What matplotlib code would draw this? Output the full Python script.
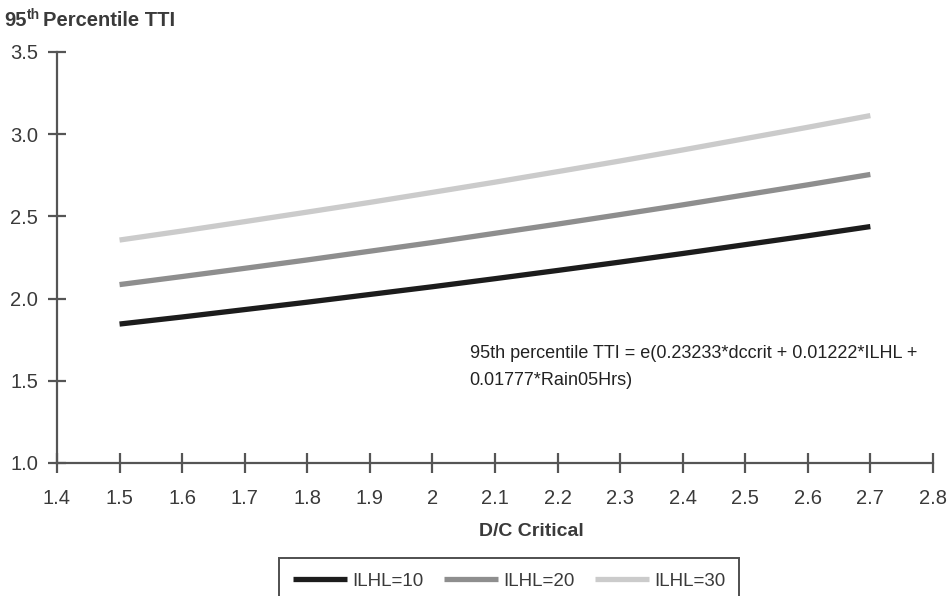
import matplotlib
matplotlib.use("Agg")
import matplotlib.pyplot as plt

# values
dc_critical = [1.5, 1.6, 1.7, 1.8, 1.9, 2.0, 2.1, 2.2, 2.3, 2.4, 2.5, 2.6, 2.7]
tti_ilhl10 = [1.845, 1.888, 1.933, 1.978, 2.025, 2.072, 2.121, 2.171, 2.222, 2.274, 2.328, 2.382, 2.438]
tti_ilhl20 = [2.085, 2.134, 2.184, 2.235, 2.288, 2.341, 2.397, 2.453, 2.511, 2.570, 2.631, 2.692, 2.755]
tti_ilhl30 = [2.356, 2.411, 2.468, 2.526, 2.585, 2.646, 2.708, 2.772, 2.837, 2.904, 2.973, 3.042, 3.113]
series_labels = ["ILHL=10", "ILHL=20", "ILHL=30"]
x_ticks = [1.4, 1.5, 1.6, 1.7, 1.8, 1.9, 2.0, 2.1, 2.2, 2.3, 2.4, 2.5, 2.6, 2.7, 2.8]
x_tick_labels = ["1.4", "1.5", "1.6", "1.7", "1.8", "1.9", "2", "2.1", "2.2", "2.3", "2.4", "2.5", "2.6", "2.7", "2.8"]
y_ticks = [1.0, 1.5, 2.0, 2.5, 3.0, 3.5]
equation = "95th percentile TTI = e(0.23233*dccrit + 0.01222*ILHL +\n0.01777*Rain05Hrs)"

plt.rcParams["font.family"] = ["Liberation Sans", "DejaVu Sans"]
text_col = "#3a3a3a"
axis_col = "#555555"

fig = plt.figure(figsize=(9.48, 5.96), dpi=100)
ax = fig.add_axes([0.0601, 0.2232, 0.9240, 0.6896])

colors = ["#1c1c1c", "#8e8e8e", "#cbcbcb"]
for ys, lab, c in zip([tti_ilhl10, tti_ilhl20, tti_ilhl30], series_labels, colors):
    ax.plot(dc_critical, ys, color=c, lw=3.8, label=lab, solid_capstyle="butt")

ax.set_xlim(1.4, 2.8)
ax.set_ylim(1.0, 3.5)
ax.set_xticks(x_ticks)
ax.set_xticklabels(x_tick_labels)
ax.set_yticks(y_ticks)
ax.set_yticklabels([f"{v:.1f}" for v in y_ticks])

for side in ["top", "right"]:
    ax.spines[side].set_visible(False)
for side in ["left", "bottom"]:
    ax.spines[side].set_color(axis_col)
    ax.spines[side].set_linewidth(1.6)

ax.tick_params(axis="x", direction="inout", length=14, width=1.6, color=axis_col,
               labelsize=14.5, labelcolor=text_col, pad=12)
ax.tick_params(axis="y", direction="inout", length=13, width=1.6, color=axis_col,
               labelsize=14.5, labelcolor=text_col, pad=7)

ax.text(0.471, 0.287, equation, transform=ax.transAxes, ha="left", va="top",
        fontsize=13, color="#222222", linespacing=1.75)

fig.text(531 / 948, 1 - 531 / 596, "D/C Critical", ha="center", va="center",
         fontsize=14, fontweight="bold", color=text_col)

# title with superscript
renderer = fig.canvas.get_renderer()
t1 = fig.text(4 / 948, 1 - 21 / 596, "95", ha="left", va="center",
              fontsize=14.5, fontweight="bold", color=text_col)
bb = t1.get_window_extent(renderer)
t2 = fig.text(bb.x1 / 948, 1 - 15 / 596, "th", ha="left", va="center",
              fontsize=10, fontweight="bold", color=text_col)
bb2 = t2.get_window_extent(renderer)
fig.text(bb2.x1 / 948 + 3 / 948, 1 - 21 / 596, "Percentile TTI", ha="left", va="center",
         fontsize=14.5, fontweight="bold", color=text_col)

leg = fig.legend(loc="upper center", bbox_to_anchor=(0.537, 0.063), ncol=3,
                 fontsize=13.5, frameon=True, fancybox=False, handlelength=2.9,
                 handletextpad=0.25, columnspacing=1.1, borderpad=0.75,
                 borderaxespad=0)
leg.get_frame().set_edgecolor("#222222")
leg.get_frame().set_linewidth(1.4)
for t in leg.get_texts():
    t.set_color(text_col)

fig.savefig("out.png", dpi=100)
